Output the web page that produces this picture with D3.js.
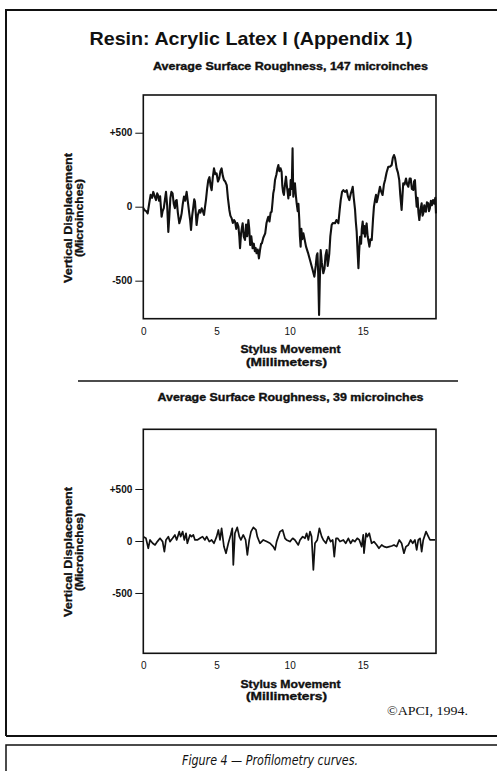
<!DOCTYPE html>
<html><head><meta charset="utf-8">
<script src="https://cdn.jsdelivr.net/npm/d3@7"></script>
<style>body{margin:0;background:#fff}svg{display:block}</style>
</head><body>
<script>
// ---- data: [stylus movement (mm), vertical displacement (microinches)] ----
const topProfile = [[0,-10],[0.1,-25],[0.2,-30],[0.3,-45],[0.4,20],[0.5,80],[0.6,60],[0.68,100],[0.78,70],[0.87,45],[0.95,90],[1.0,80],[1.08,40],[1.15,70],[1.25,-68],[1.32,-30],[1.4,-10],[1.48,50],[1.55,100],[1.63,10],[1.71,-170],[1.78,-60],[1.85,60],[1.92,100],[2.0,90],[2.08,20],[2.16,-10],[2.22,40],[2.28,45],[2.36,-40],[2.46,-112],[2.55,-80],[2.62,-45],[2.7,20],[2.78,68],[2.86,40],[2.96,100],[3.05,30],[3.14,-45],[3.2,-90],[3.26,-157],[3.34,-60],[3.42,0],[3.48,50],[3.53,34],[3.6,-60],[3.64,-124],[3.72,-60],[3.83,-22],[3.9,-40],[3.99,-11],[4.07,-30],[4.15,-56],[4.22,0],[4.28,45],[4.36,120],[4.44,180],[4.52,200],[4.6,140],[4.67,112],[4.75,200],[4.83,259],[4.92,220],[5.01,225],[5.1,170],[5.19,191],[5.27,240],[5.35,259],[5.43,210],[5.51,180],[5.6,170],[5.7,146],[5.78,60],[5.88,-22],[5.95,-60],[6.04,-79],[6.12,-110],[6.2,-90],[6.27,-101],[6.35,-150],[6.42,-110],[6.5,-135],[6.56,-200],[6.61,-281],[6.68,-180],[6.74,-140],[6.79,-112],[6.86,-200],[6.95,-225],[7.02,-120],[7.1,-200],[7.18,-90],[7.24,-150],[7.3,-259],[7.38,-200],[7.47,-281],[7.55,-250],[7.62,-300],[7.68,-280],[7.74,-315],[7.82,-290],[7.9,-349],[7.98,-290],[8.05,-250],[8.1,-248],[8.2,-210],[8.33,-180],[8.42,-110],[8.5,-80],[8.54,-68],[8.62,-100],[8.7,-40],[8.77,-34],[8.83,30],[8.88,90],[8.94,120],[9.0,180],[9.1,220],[9.17,260],[9.23,281],[9.3,240],[9.38,260],[9.45,236],[9.5,140],[9.55,100],[9.61,79],[9.68,150],[9.75,203],[9.8,150],[9.86,100],[9.91,56],[9.98,120],[10.03,80],[10.07,180],[10.14,120],[10.2,394],[10.23,180],[10.25,68],[10.3,130],[10.36,158],[10.42,80],[10.48,22],[10.55,-30],[10.6,20],[10.66,-90],[10.7,-200],[10.75,-270],[10.8,-150],[10.86,-220],[10.94,-180],[11.02,-220],[11.12,-270],[11.25,-310],[11.39,-360],[11.55,-420],[11.69,-473],[11.78,-400],[11.85,-330],[11.9,-315],[11.95,-450],[12.01,-731],[12.06,-500],[12.12,-293],[12.2,-380],[12.3,-450],[12.38,-420],[12.45,-330],[12.53,-293],[12.6,-400],[12.66,-360],[12.71,-315],[12.78,-200],[12.87,-124],[12.95,-110],[13.1,-112],[13.2,-90],[13.33,-112],[13.42,-20],[13.49,45],[13.58,100],[13.67,112],[13.78,100],[13.9,112],[13.98,70],[14.08,45],[14.18,90],[14.25,110],[14.31,135],[14.38,60],[14.47,-22],[14.52,-100],[14.58,-169],[14.64,-300],[14.7,-416],[14.75,-300],[14.81,-203],[14.88,-250],[14.93,-150],[14.99,-101],[15.05,-180],[15.1,-130],[15.15,-203],[15.2,-150],[15.26,-113],[15.33,-200],[15.4,-240],[15.45,-270],[15.52,-220],[15.61,-225],[15.7,-80],[15.76,0],[15.83,45],[15.9,80],[15.95,30],[16.01,56],[16.1,100],[16.17,135],[16.26,100],[16.35,79],[16.44,150],[16.52,180],[16.62,230],[16.74,270],[16.85,270],[16.97,281],[17.05,330],[17.13,349],[17.2,330],[17.31,259],[17.4,230],[17.49,180],[17.56,80],[17.65,-22],[17.7,60],[17.76,158],[17.85,150],[17.95,191],[18.03,150],[18.11,135],[18.2,190],[18.27,191],[18.35,120],[18.45,113],[18.5,170],[18.56,180],[18.62,80],[18.68,0],[18.74,60],[18.8,-40],[18.86,-90],[18.94,-20],[19.02,23],[19.08,-60],[19.13,-45],[19.2,10],[19.25,-30],[19.31,-34],[19.38,30],[19.47,23],[19.52,-30],[19.58,-11],[19.65,40],[19.72,10],[19.8,45],[19.88,20],[19.95,60],[20.0,-45]];
const bottomProfile = [[0,42],[0.18,26],[0.34,-70],[0.46,10],[0.64,-22],[0.8,-38],[0.96,-6],[1.14,26],[1.32,-6],[1.44,-102],[1.55,10],[1.71,42],[1.82,-6],[2.0,26],[2.16,58],[2.28,10],[2.46,90],[2.55,42],[2.69,90],[2.8,10],[2.92,74],[3.01,-22],[3.19,58],[3.3,42],[3.42,58],[3.53,10],[3.69,10],[3.87,26],[4.05,42],[4.21,10],[4.33,42],[4.51,-6],[4.67,10],[4.83,-22],[5.01,42],[5.13,106],[5.24,10],[5.35,122],[5.51,-54],[5.65,-118],[5.81,-22],[5.97,58],[6.08,122],[6.15,-230],[6.26,74],[6.42,131],[6.56,42],[6.67,10],[6.83,58],[6.99,10],[7.11,-134],[7.24,10],[7.36,90],[7.52,131],[7.7,106],[7.79,42],[7.97,-22],[8.2,10],[8.43,-6],[8.66,-22],[8.88,-54],[9.0,-86],[9.11,-6],[9.34,90],[9.52,106],[9.68,26],[9.79,10],[10.02,-6],[10.21,26],[10.36,10],[10.59,-38],[10.71,10],[10.89,42],[11.05,26],[11.16,74],[11.28,10],[11.39,90],[11.5,42],[11.62,-278],[11.73,-22],[11.89,10],[12.03,122],[12.19,42],[12.3,10],[12.48,-22],[12.64,42],[12.8,-6],[12.94,10],[13.05,-150],[13.17,26],[13.28,26],[13.44,-6],[13.67,10],[13.83,-22],[14.01,26],[14.17,-22],[14.31,10],[14.46,-6],[14.62,26],[14.76,10],[14.92,-54],[15.03,58],[15.08,-118],[15.22,74],[15.31,42],[15.44,74],[15.6,-22],[15.76,-6],[15.95,-38],[16.1,-70],[16.29,-38],[16.45,-54],[16.63,-61],[16.81,-54],[16.97,-48],[17.13,-38],[17.31,-54],[17.49,10],[17.65,-22],[17.81,-118],[17.95,-54],[18.11,-38],[18.27,10],[18.41,-22],[18.56,10],[18.68,-86],[18.79,10],[18.91,26],[19.02,-102],[19.13,10],[19.32,90],[19.48,42],[19.59,10],[19.82,10],[19.93,10]];
const xTicks = [0,5,10,15];
const yTicks = [500,0,-500];
const titleText = "Resin: Acrylic Latex I (Appendix 1)";
const subTitles = ["Average Surface Roughness, 147 microinches","Average Surface Roughness, 39 microinches"];
const xLabel = ["Stylus Movement","(Millimeters)"];
const yLabel = ["Vertical Displacement","(Microinches)"];

const W=497,H=771;
const svg=d3.select("body").append("svg").attr("width",W).attr("height",H);
const ink="#111";
const lf="Liberation Sans, Arial, sans-serif";

// frames
svg.append("path").attr("d","M6,736 L6,10 L497,10").attr("fill","none").attr("stroke",ink).attr("stroke-width",2);
svg.append("line").attr("x1",6).attr("x2",497).attr("y1",736).attr("y2",736).attr("stroke",ink).attr("stroke-width",2);
svg.append("path").attr("d","M6,771 L6,745 L497,745").attr("fill","none").attr("stroke",ink).attr("stroke-width",1.5);

svg.append("text").attr("x",251).attr("y",45).attr("text-anchor","middle")
  .attr("font-family",lf).attr("font-weight","bold").attr("font-size",18.5)
  .attr("textLength",323).attr("lengthAdjust","spacingAndGlyphs").attr("fill",ink).text(titleText);

svg.append("line").attr("x1",78).attr("x2",458).attr("y1",381).attr("y2",381).attr("stroke",ink).attr("stroke-width",1.5);

function boldText(g,x,y,txt,len,rot){
  const t=g.append("text").attr("text-anchor","middle").attr("font-family",lf)
    .attr("font-weight","bold").attr("font-size",10.5).attr("stroke",ink).attr("stroke-width",0.35)
    .attr("textLength",len).attr("lengthAdjust","spacingAndGlyphs").attr("fill",ink).text(txt);
  t.attr("transform",`translate(${x},${y})`+(rot?" rotate(-90)":""));
  return t;
}

function panel(cfg){
  const x=d3.scaleLinear().domain([0,20]).range([143.3,436]);
  const y=d3.scaleLinear().domain(cfg.dom).range([cfg.bottom,cfg.top]);
  const g=svg.append("g");
  g.append("text").attr("x",290.5).attr("y",cfg.subY).attr("text-anchor","middle")
    .attr("font-family",lf).attr("font-weight","bold").attr("font-size",10)
    .attr("stroke",ink).attr("stroke-width",0.35)
    .attr("textLength",cfg.subW).attr("lengthAdjust","spacingAndGlyphs").attr("fill",ink).text(cfg.sub);
  const ya=g.append("g").attr("transform","translate(143.3,0)")
    .call(d3.axisLeft(y).tickValues(yTicks).tickSize(8).tickPadding(3).tickFormat(d=>d>0?"+"+d:String(d)));
  ya.select(".domain").remove();
  ya.selectAll("line").attr("stroke",ink).attr("stroke-width",1);
  ya.selectAll("text").attr("font-family",lf).attr("font-size",10).attr("font-weight","bold").attr("fill",ink);
  const xa=g.append("g").attr("transform",`translate(0,${cfg.bottom})`)
    .call(d3.axisBottom(x).tickValues(xTicks).tickSize(0).tickPadding(cfg.xPad));
  xa.select(".domain").remove();
  xa.selectAll("text").attr("font-family",lf).attr("font-size",10).attr("fill",ink);
  g.append("rect").attr("x",x(0)).attr("y",cfg.top).attr("width",x(20)-x(0)).attr("height",cfg.bottom-cfg.top)
    .attr("fill","none").attr("stroke",ink).attr("stroke-width",1.6);
  const line=d3.line().x(d=>x(d[0])).y(d=>y(d[1]));
  g.append("path").datum(cfg.data).attr("d",line)
    .attr("fill","none").attr("stroke",ink).attr("stroke-width",cfg.lw).attr("stroke-linejoin","round");
  boldText(g,290.5,cfg.xl1,xLabel[0],100,false);
  boldText(g,286.5,cfg.xl2,xLabel[1],81,false);
  boldText(g,72,cfg.ylc,yLabel[0],130,true);
  boldText(g,83,cfg.ylc,yLabel[1],78,true);
}

panel({dom:[-757,755],top:95,bottom:318.7,data:topProfile,lw:2.1,sub:subTitles[0],subY:70,subW:275,xPad:9,xl1:353,xl2:366,ylc:218});
panel({dom:[-1080,1074],top:429.3,bottom:653.3,data:bottomProfile,lw:1.7,sub:subTitles[1],subY:401,subW:266,xPad:9,xl1:688,xl2:700,ylc:552});

svg.append("text").attr("x",387).attr("y",715).attr("font-family","Liberation Serif, DejaVu Serif, serif")
  .attr("font-size",13).attr("textLength",81).attr("lengthAdjust","spacingAndGlyphs").attr("fill",ink).text("©APCI, 1994.");

svg.append("text").attr("x",270).attr("y",765).attr("text-anchor","middle")
  .attr("font-family","DejaVu Sans, sans-serif").attr("font-style","italic").attr("font-size",13.5)
  .attr("textLength",176).attr("lengthAdjust","spacingAndGlyphs").attr("fill",ink).text("Figure 4 — Profilometry curves.");
</script>
</body></html>
